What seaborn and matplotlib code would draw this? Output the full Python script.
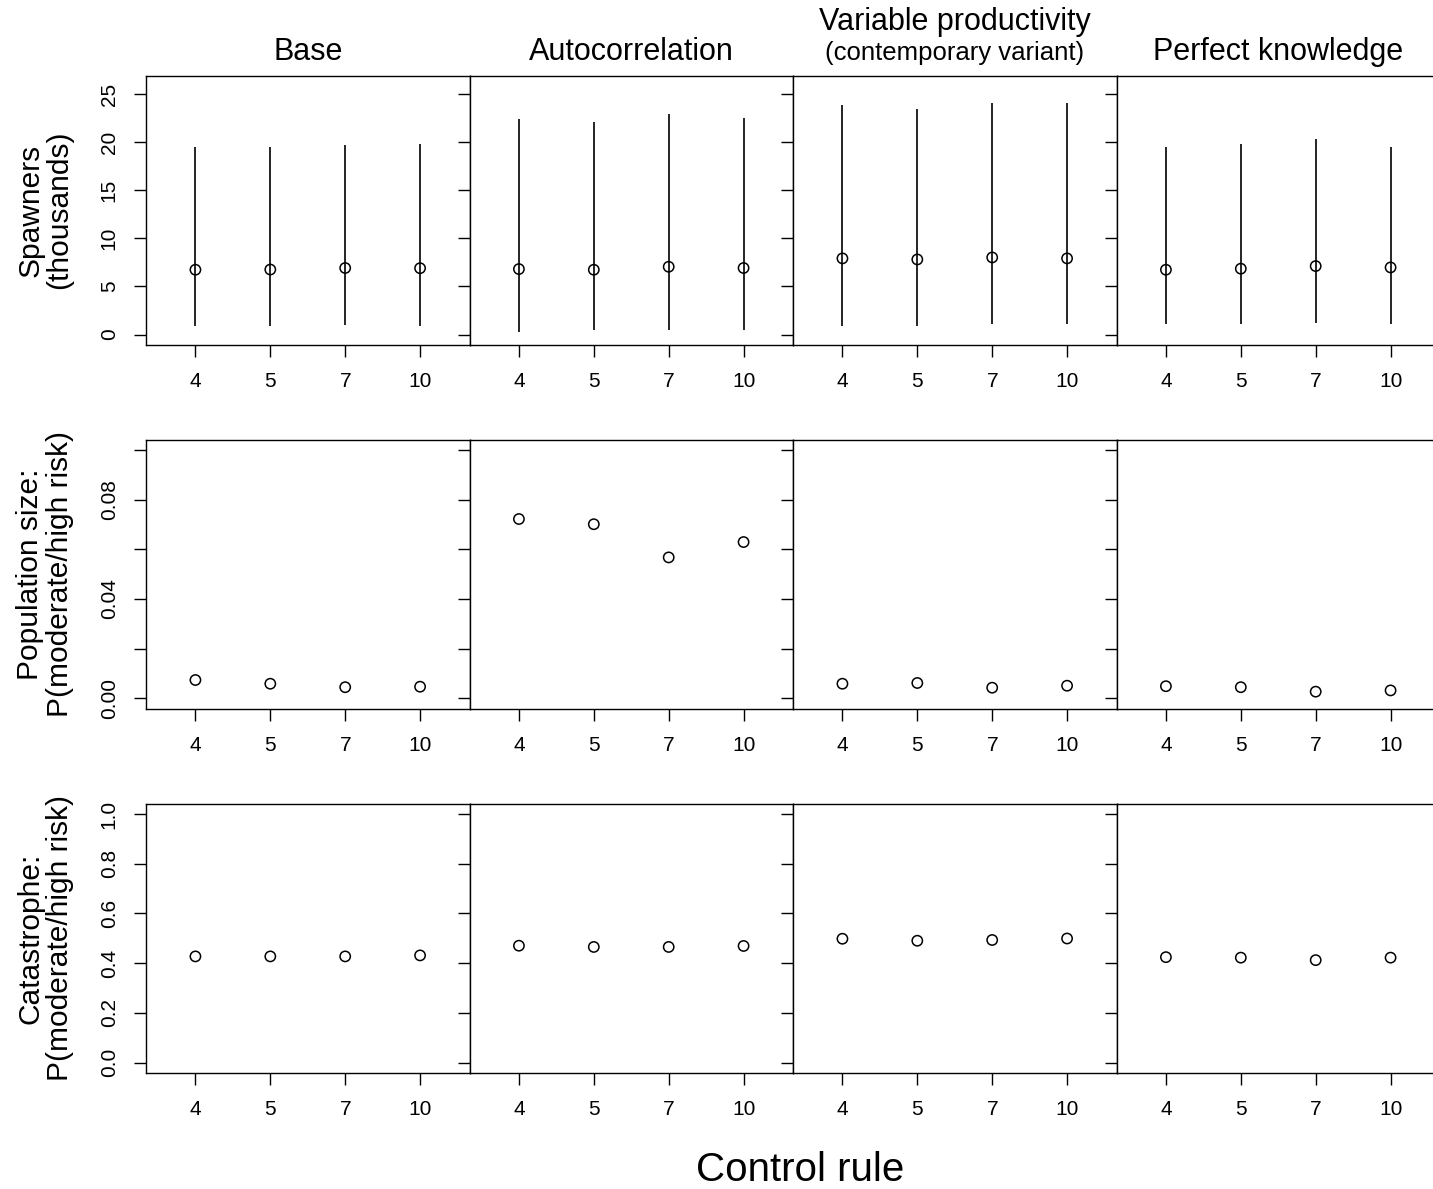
import matplotlib
matplotlib.use("Agg")
import matplotlib.pyplot as plt
import numpy as np
import pandas as pd
import seaborn as sns

scenarios = ["Base", "Autocorrelation", "Variable productivity", "Perfect knowledge"]
rules = ["4", "5", "7", "10"]

# spawners (thousands): median and interval ends, one row per scenario
spawn_mid = [
    [6.74, 6.76, 6.92, 6.90],
    [6.81, 6.74, 7.05, 6.92],
    [7.92, 7.81, 8.02, 7.92],
    [6.74, 6.85, 7.12, 6.98],
]
spawn_lo = [
    [0.93, 0.93, 1.04, 0.93],
    [0.31, 0.48, 0.48, 0.48],
    [0.93, 0.93, 1.07, 1.07],
    [1.07, 1.07, 1.24, 1.07],
]
spawn_hi = [
    [19.53, 19.50, 19.68, 19.80],
    [22.44, 22.13, 22.93, 22.58],
    [23.93, 23.48, 24.10, 24.10],
    [19.50, 19.80, 20.30, 19.50],
]
# P(moderate/high risk) for population size
pop_risk = [
    [0.0073, 0.0058, 0.0044, 0.0046],
    [0.0723, 0.0702, 0.0568, 0.0630],
    [0.0058, 0.0061, 0.0042, 0.0050],
    [0.0048, 0.0044, 0.0026, 0.0031],
]
# P(moderate/high risk) for catastrophe
cat_risk = [
    [0.427, 0.427, 0.427, 0.431],
    [0.470, 0.465, 0.465, 0.469],
    [0.498, 0.490, 0.493, 0.499],
    [0.424, 0.422, 0.412, 0.422],
]

row_labels = [
    "Spawners\n(thousands)",
    "Population size:\nP(moderate/high risk)",
    "Catastrophe:\nP(moderate/high risk)",
]
row_ylims = [(-1.04, 26.9), (-0.0042, 0.1042), (-0.04, 1.04)]
row_yticks = [
    [0, 5, 10, 15, 20, 25],
    [0.0, 0.02, 0.04, 0.06, 0.08, 0.10],
    [0.0, 0.2, 0.4, 0.6, 0.8, 1.0],
]
row_yticklabels = [
    ["0", "5", "10", "15", "20", "25"],
    ["0.00", "", "0.04", "", "0.08", ""],
    ["0.0", "0.2", "0.4", "0.6", "0.8", "1.0"],
]


def long_frame():
    rows = []
    for i, scen in enumerate(scenarios):
        for j, rule in enumerate(rules):
            rows.append({"scenario": scen, "rule": rule, "metric": 0, "value": spawn_mid[i][j],
                         "lo": spawn_lo[i][j], "hi": spawn_hi[i][j]})
            rows.append({"scenario": scen, "rule": rule, "metric": 1, "value": pop_risk[i][j],
                         "lo": np.nan, "hi": np.nan})
            rows.append({"scenario": scen, "rule": rule, "metric": 2, "value": cat_risk[i][j],
                         "lo": np.nan, "hi": np.nan})
    return pd.DataFrame(rows)


sns.set_style("white")
plt.rcParams["font.family"] = ["Liberation Sans", "DejaVu Sans"]
plt.rcParams["text.color"] = "black"
plt.rcParams["axes.labelcolor"] = "black"
plt.rcParams["xtick.color"] = "black"
plt.rcParams["ytick.color"] = "black"

W, H = 1433, 1189
fig = plt.figure(figsize=(W / 100, H / 100), dpi=100)


def px_rect(left, top, width, height):
    return [left / W, 1 - (top + height) / H, width / W, height / H]


col_left = [146, 469.5, 793, 1116.5]
col_w = 323.5
row_top = [76, 440, 804]
row_h = 268.5

df = long_frame()

for r in range(3):
    for c, scen in enumerate(scenarios):
        ax = fig.add_axes(px_rect(col_left[c], row_top[r], col_w, row_h))
        sub = df[(df["scenario"] == scen) & (df["metric"] == r)]
        sns.scatterplot(data=sub, x="rule", y="value", marker="o", s=55,
                        color="none", edgecolor="black", linewidth=1.1,
                        legend=False, ax=ax, zorder=3)
        if r == 0:
            ax.vlines(sub["rule"], sub["lo"], sub["hi"], color="black", lw=1.2, zorder=2)
        ax.set_xlim(-0.66, 3.66)
        ax.set_ylim(*row_ylims[r])
        ax.set_yticks(row_yticks[r])
        ax.set_yticklabels(row_yticklabels[r])
        ax.set_xlabel("")
        ax.set_ylabel("")
        for sp in ax.spines.values():
            sp.set_visible(True)
            sp.set_color("black")
            sp.set_linewidth(1.0)
        ax.tick_params(axis="x", direction="out", length=8.6, width=1.0, pad=11.5,
                       labelsize=15, colors="black", bottom=True)
        ax.tick_params(axis="y", direction="out", length=8.6, width=1.0, pad=11,
                       labelsize=15, colors="black", left=True, labelrotation=90,
                       labelleft=(c == 0))
        for lbl in ax.get_yticklabels():
            lbl.set_va("center")

# column headings
for c, scen in enumerate(scenarios):
    cx = (col_left[c] + col_w / 2) / W
    if scen == "Variable productivity":
        fig.text(cx, 1 - 30 / H, scen, ha="center", va="baseline", fontsize=22)
        fig.text(cx, 1 - 60 / H, "(contemporary variant)", ha="center", va="baseline",
                 fontsize=18.5)
    else:
        fig.text(cx, 1 - 60 / H, scen, ha="center", va="baseline", fontsize=22)

# row labels
for r, lab in enumerate(row_labels):
    cy = 1 - (row_top[r] + row_h / 2) / H
    fig.text(45 / W, cy, lab, rotation=90, ha="center", va="center",
             multialignment="center", fontsize=21.5, linespacing=1.05)

fig.text(800 / W, 1 - 1170 / H, "Control rule", ha="center", va="center", fontsize=29)

fig.savefig("out.png", dpi=100)
